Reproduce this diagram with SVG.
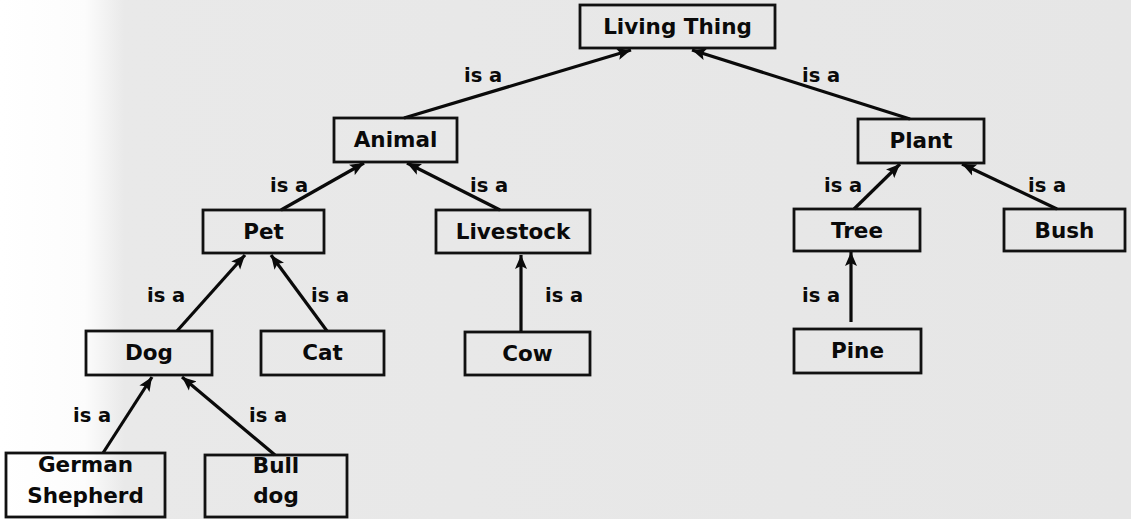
<svg xmlns="http://www.w3.org/2000/svg" width="1131" height="519" viewBox="0 0 1131 519">
<defs>
<linearGradient id="bg" x1="0" y1="0" x2="1131" y2="0" gradientUnits="userSpaceOnUse">
<stop offset="0" stop-color="#ffffff"/>
<stop offset="0.075" stop-color="#fcfcfc"/>
<stop offset="0.11" stop-color="#e9e9e9"/>
<stop offset="1" stop-color="#e6e6e6"/>
</linearGradient>
<marker id="arr" markerWidth="15" markerHeight="13" refX="14" refY="6.5" orient="auto" markerUnits="userSpaceOnUse">
<path d="M0,0.5 L14,6.5 L0,12.5 L3,6.5 Z" fill="#0a0a0a"/>
</marker>
<style>
.box{fill:none;stroke:#111;stroke-width:2.8}
.t{font-family:"DejaVu Sans",Verdana,sans-serif;font-weight:bold;font-size:21.5px;fill:#0a0a0a;text-anchor:middle}
.l{font-family:"DejaVu Sans",Verdana,sans-serif;font-weight:bold;font-size:19.5px;fill:#0a0a0a}
.c{stroke:#0a0a0a;stroke-width:3.2;fill:none;marker-end:url(#arr)}
</style>
</defs>
<rect x="0" y="0" width="1131" height="519" fill="url(#bg)"/>

<g id="connectors">
<line class="c" x1="404" y1="118" x2="631" y2="50"/>
<line class="c" x1="910" y1="119" x2="692" y2="50"/>
<line class="c" x1="281" y1="210" x2="364" y2="163"/>
<line class="c" x1="500" y1="210" x2="407" y2="163"/>
<line class="c" x1="854" y1="209" x2="900" y2="164"/>
<line class="c" x1="1057" y1="209" x2="962" y2="164"/>
<line class="c" x1="177" y1="331" x2="245" y2="255"/>
<line class="c" x1="327" y1="331" x2="271" y2="255"/>
<line class="c" x1="521" y1="332" x2="521" y2="255"/>
<line class="c" x1="851" y1="322" x2="851" y2="252"/>
<line class="c" x1="103" y1="453" x2="152" y2="377"/>
<line class="c" x1="275" y1="455" x2="182" y2="377"/>
<text class="l" x="464" y="82">is a</text>
<text class="l" x="802" y="82">is a</text>
<text class="l" x="270" y="192">is a</text>
<text class="l" x="470" y="192">is a</text>
<text class="l" x="824" y="192">is a</text>
<text class="l" x="1028" y="192">is a</text>
<text class="l" x="147" y="302">is a</text>
<text class="l" x="311" y="302">is a</text>
<text class="l" x="545" y="302">is a</text>
<text class="l" x="802" y="302">is a</text>
<text class="l" x="73" y="422">is a</text>
<text class="l" x="249" y="422">is a</text>
</g>

<g id="living-thing"><rect class="box" x="580" y="5" width="195" height="43"/><text class="t" x="677.5" y="34">Living Thing</text></g>
<g id="animal"><rect class="box" x="334" y="118" width="123" height="44"/><text class="t" x="395.5" y="147">Animal</text></g>
<g id="plant"><rect class="box" x="858" y="119" width="126" height="44"/><text class="t" x="921" y="148">Plant</text></g>
<g id="pet"><rect class="box" x="203" y="210" width="121" height="43"/><text class="t" x="263.5" y="239">Pet</text></g>
<g id="livestock"><rect class="box" x="436" y="210" width="154" height="43"/><text class="t" x="513" y="239">Livestock</text></g>
<g id="tree"><rect class="box" x="794" y="209" width="126" height="42"/><text class="t" x="857" y="238">Tree</text></g>
<g id="bush"><rect class="box" x="1004" y="209" width="121" height="42"/><text class="t" x="1064.5" y="238">Bush</text></g>
<g id="dog"><rect class="box" x="86" y="331" width="126" height="44"/><text class="t" x="149" y="360">Dog</text></g>
<g id="cat"><rect class="box" x="261" y="331" width="123" height="44"/><text class="t" x="322.5" y="360">Cat</text></g>
<g id="cow"><rect class="box" x="465" y="332" width="125" height="43"/><text class="t" x="527.5" y="361">Cow</text></g>
<g id="pine"><rect class="box" x="794" y="329" width="127" height="44"/><text class="t" x="857.5" y="358">Pine</text></g>
<g id="german-shepherd"><rect class="box" x="6" y="453" width="159" height="64"/><text class="t" x="85.5" y="472">German</text><text class="t" x="85.5" y="503">Shepherd</text></g>
<g id="bull-dog"><rect class="box" x="205" y="455" width="142" height="62"/><text class="t" x="276" y="473">Bull</text><text class="t" x="276" y="503">dog</text></g>
</svg>
